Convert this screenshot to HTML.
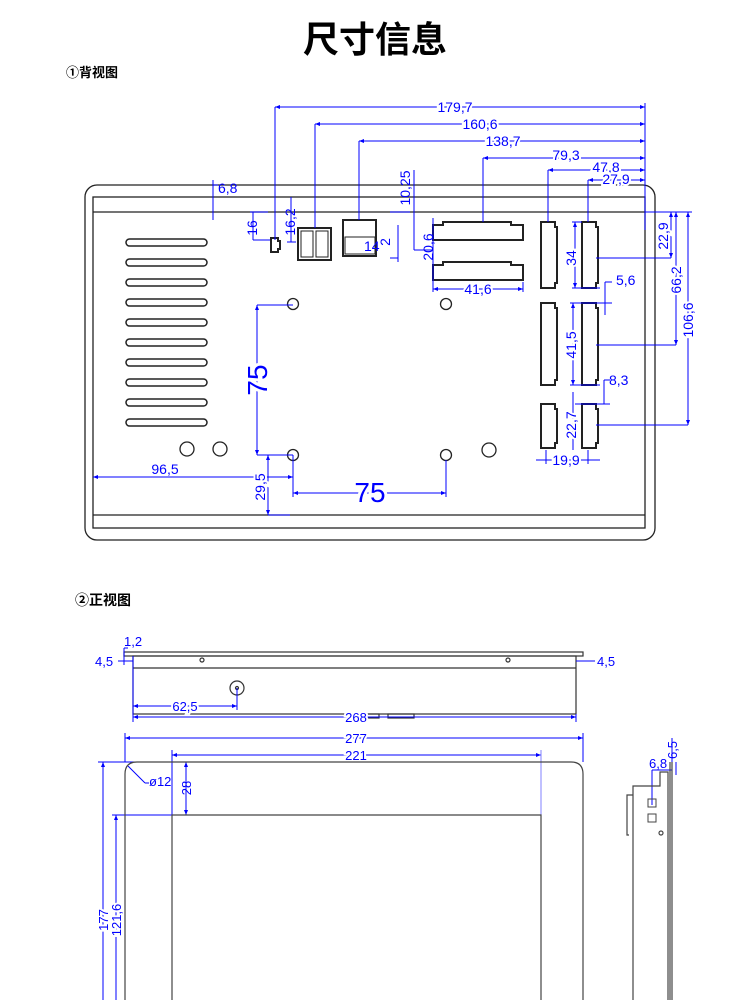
<!DOCTYPE html>
<html><head><meta charset="utf-8"><style>
html,body{margin:0;padding:0;background:#fff;}
svg{display:block}
</style></head><body>
<svg width="750" height="1000" viewBox="0 0 750 1000" xmlns="http://www.w3.org/2000/svg" font-family="Liberation Sans, sans-serif">
<defs>
<marker id="a" viewBox="0 0 10 10" refX="10" refY="5" markerWidth="7" markerHeight="5" orient="auto-start-reverse"><path d="M0,1 L10,5 L0,9z" fill="#0000ff"/></marker>
</defs>
<text x="375" y="52" text-anchor="middle" font-size="36" font-weight="bold" font-family="Liberation Sans, Noto Sans CJK SC, sans-serif">尺寸信息</text>
<text x="66" y="77" font-size="13" font-weight="bold" font-family="Liberation Sans, Noto Sans CJK SC, sans-serif">①背视图</text>
<text x="75" y="605" font-size="14" font-weight="bold" font-family="Liberation Sans, Noto Sans CJK SC, sans-serif">②正视图</text>

<!-- back view -->
<g fill="none" stroke="#222" stroke-width="1.3">
<rect x="85" y="185" width="570" height="355" rx="12"/>
<rect x="93" y="197" width="552" height="331"/>
<line x1="93" y1="212" x2="645" y2="212"/>
<line x1="93" y1="515" x2="645" y2="515"/>
<g stroke-width="1.5">
<rect x="126" y="239" width="81" height="7" rx="3.5"/><rect x="126" y="259" width="81" height="7" rx="3.5"/><rect x="126" y="279" width="81" height="7" rx="3.5"/><rect x="126" y="299" width="81" height="7" rx="3.5"/><rect x="126" y="319" width="81" height="7" rx="3.5"/><rect x="126" y="339" width="81" height="7" rx="3.5"/><rect x="126" y="359" width="81" height="7" rx="3.5"/><rect x="126" y="379" width="81" height="7" rx="3.5"/><rect x="126" y="399" width="81" height="7" rx="3.5"/><rect x="126" y="419" width="81" height="7" rx="3.5"/>
</g>
<circle cx="293" cy="304" r="5.5"/><circle cx="446" cy="304" r="5.5"/><circle cx="293" cy="455" r="5.5"/><circle cx="446" cy="455" r="5.5"/>
<circle cx="187" cy="449" r="7"/><circle cx="220" cy="449" r="7"/><circle cx="489" cy="450" r="7"/>
<g stroke-width="2">
<path d="M271,238 h7 v3 h2 v8 h-2 v3 h-7z"/>
<rect x="298" y="228" width="33" height="32"/>
<rect x="343" y="220" width="33" height="36"/>
<path d="M433,225 h10 v-3 h68 v3 h12 v15 h-90z"/>
<path d="M433,265 h10 v-3 h68 v3 h12 v15 h-90z"/>
<path d="M541,222 h14 v5 h2 v56 h-2 v5 h-14z"/>
<path d="M541,303 h14 v5 h2 v72 h-2 v5 h-14z"/>
<path d="M541,404 h14 v5 h2 v34 h-2 v5 h-14z"/>
<path d="M582,222 h14 v5 h2 v56 h-2 v5 h-14z"/>
<path d="M582,303 h14 v5 h2 v72 h-2 v5 h-14z"/>
<path d="M582,404 h14 v5 h2 v34 h-2 v5 h-14z"/>
</g>
<rect x="301" y="231" width="12" height="26" stroke-width="1"/><rect x="316" y="231" width="12" height="26" stroke-width="1"/>
<rect x="345" y="237" width="30" height="17" stroke-width="1"/>
</g>

<g stroke="#0000ff" stroke-width="1" fill="none">
<line x1="275" y1="107" x2="645" y2="107" marker-start="url(#a)" marker-end="url(#a)"/>
<line x1="315" y1="124" x2="645" y2="124" marker-start="url(#a)" marker-end="url(#a)"/>
<line x1="359" y1="141" x2="645" y2="141" marker-start="url(#a)" marker-end="url(#a)"/>
<line x1="483" y1="158" x2="645" y2="158" marker-start="url(#a)" marker-end="url(#a)"/>
<line x1="548" y1="170" x2="645" y2="170" marker-start="url(#a)" marker-end="url(#a)"/>
<line x1="588" y1="180" x2="645" y2="180" marker-start="url(#a)" marker-end="url(#a)"/>
<line x1="645" y1="103" x2="645" y2="230"/>
<line x1="275" y1="107" x2="275" y2="240"/><line x1="315" y1="124" x2="315" y2="228"/><line x1="359" y1="141" x2="359" y2="220"/><line x1="483" y1="158" x2="483" y2="222"/><line x1="548" y1="170" x2="548" y2="222"/><line x1="588" y1="180" x2="588" y2="222"/>
<line x1="213" y1="180" x2="213" y2="220"/><line x1="213" y1="185" x2="218" y2="185"/>
<line x1="253" y1="212" x2="253" y2="240"/><line x1="253" y1="240" x2="270" y2="240"/><line x1="250" y1="212" x2="268" y2="212"/>
<line x1="291" y1="197" x2="291" y2="242"/><line x1="287" y1="242" x2="296" y2="242"/>
<line x1="414" y1="170" x2="414" y2="250"/><line x1="414" y1="250" x2="433" y2="250"/>
<line x1="398" y1="225" x2="398" y2="262"/><line x1="390" y1="258" x2="398" y2="258"/><line x1="390" y1="212" x2="410" y2="212"/>
<line x1="433" y1="218" x2="433" y2="292"/>
<line x1="433" y1="289" x2="523" y2="289" marker-start="url(#a)" marker-end="url(#a)"/><line x1="523" y1="282" x2="523" y2="292"/>
<line x1="575" y1="222" x2="575" y2="288" marker-start="url(#a)" marker-end="url(#a)"/><line x1="572" y1="222" x2="582" y2="222"/><line x1="572" y1="288" x2="600" y2="288"/>
<line x1="605" y1="282" x2="605" y2="315"/><line x1="605" y1="282" x2="612" y2="282"/><line x1="570" y1="303" x2="612" y2="303"/>
<line x1="573" y1="303" x2="573" y2="385" marker-start="url(#a)" marker-end="url(#a)"/><line x1="570" y1="385" x2="600" y2="385"/>
<line x1="604" y1="380" x2="604" y2="404"/><line x1="604" y1="380" x2="610" y2="380"/><line x1="575" y1="404" x2="610" y2="404"/>
<line x1="573" y1="392" x2="573" y2="450"/>
<line x1="536" y1="460" x2="600" y2="460"/><line x1="546" y1="450" x2="546" y2="464"/><line x1="588" y1="450" x2="588" y2="464"/>
<line x1="596" y1="258" x2="671" y2="258"/><line x1="596" y1="345" x2="676" y2="345"/><line x1="596" y1="425" x2="688" y2="425"/><line x1="645" y1="212" x2="692" y2="212"/>
<line x1="671" y1="212" x2="671" y2="258" marker-start="url(#a)" marker-end="url(#a)"/>
<line x1="676" y1="212" x2="676" y2="345" marker-start="url(#a)" marker-end="url(#a)"/>
<line x1="688" y1="212" x2="688" y2="425" marker-start="url(#a)" marker-end="url(#a)"/>
<line x1="257" y1="305" x2="257" y2="455" marker-start="url(#a)" marker-end="url(#a)"/><line x1="257" y1="305" x2="293" y2="305"/><line x1="257" y1="455" x2="293" y2="455"/>
<line x1="293" y1="455" x2="293" y2="497"/><line x1="446" y1="460" x2="446" y2="497"/>
<line x1="293" y1="493" x2="446" y2="493" marker-start="url(#a)" marker-end="url(#a)"/>
<line x1="93" y1="477" x2="293" y2="477" marker-start="url(#a)" marker-end="url(#a)"/>
<line x1="268" y1="455" x2="268" y2="515" marker-start="url(#a)" marker-end="url(#a)"/><line x1="268" y1="515" x2="290" y2="515"/>
</g>
<g fill="#0000ff" font-size="14">
<text x="455" y="112" text-anchor="middle" fill="#0000ff" stroke="#fff" stroke-width="4" paint-order="stroke">179,7</text>
<text x="480" y="129" text-anchor="middle" stroke="#fff" stroke-width="4" paint-order="stroke">160,6</text>
<text x="503" y="146" text-anchor="middle" stroke="#fff" stroke-width="4" paint-order="stroke">138,7</text>
<text x="566" y="160" text-anchor="middle" stroke="#fff" stroke-width="4" paint-order="stroke">79,3</text>
<text x="606" y="172" text-anchor="middle" stroke="#fff" stroke-width="4" paint-order="stroke">47,8</text>
<text x="616" y="184" text-anchor="middle" stroke="#fff" stroke-width="4" paint-order="stroke">27,9</text>
<text x="218" y="193">6,8</text>
<text x="364" y="251">14</text>
<text x="478" y="294" text-anchor="middle" stroke="#fff" stroke-width="4" paint-order="stroke">41,6</text>
<text x="616" y="285">5,6</text>
<text x="609" y="385">8,3</text>
<text x="566" y="465" text-anchor="middle" stroke="#fff" stroke-width="4" paint-order="stroke">19,9</text>
<text x="165" y="474" text-anchor="middle">96,5</text>
<text x="370" y="502" text-anchor="middle" font-size="28" stroke="#fff" stroke-width="6" paint-order="stroke">75</text>
<text transform="translate(267,380) rotate(-90)" text-anchor="middle" font-size="28" stroke="#fff" stroke-width="6" paint-order="stroke">75</text>
<text transform="translate(257,228) rotate(-90)" text-anchor="middle">16</text>
<text transform="translate(295,222) rotate(-90)" text-anchor="middle">16,2</text>
<text transform="translate(410,188) rotate(-90)" text-anchor="middle">10,25</text>
<text transform="translate(390,242) rotate(-90)" text-anchor="middle">2</text>
<text transform="translate(433,247) rotate(-90)" text-anchor="middle">20,6</text>
<text transform="translate(576,258) rotate(-90)" text-anchor="middle" stroke="#fff" stroke-width="4" paint-order="stroke">34</text>
<text transform="translate(576,345) rotate(-90)" text-anchor="middle" stroke="#fff" stroke-width="4" paint-order="stroke">41,5</text>
<text transform="translate(576,425) rotate(-90)" text-anchor="middle" stroke="#fff" stroke-width="4" paint-order="stroke">22,7</text>
<text transform="translate(668,236) rotate(-90)" text-anchor="middle" stroke="#fff" stroke-width="4" paint-order="stroke">22,9</text>
<text transform="translate(681,280) rotate(-90)" text-anchor="middle" stroke="#fff" stroke-width="4" paint-order="stroke">66,2</text>
<text transform="translate(693,320) rotate(-90)" text-anchor="middle" stroke="#fff" stroke-width="4" paint-order="stroke">106,6</text>
<text transform="translate(265,487) rotate(-90)" text-anchor="middle" stroke="#fff" stroke-width="4" paint-order="stroke">29,5</text>
</g>

<!-- front section: top strip -->
<g fill="none" stroke="#333" stroke-width="1.2">
<rect x="124" y="652" width="459" height="4"/>
<rect x="133" y="656" width="443" height="58"/>
<line x1="133" y1="668" x2="576" y2="668"/>
<circle cx="202" cy="660" r="2"/><circle cx="508" cy="660" r="2"/>
<circle cx="237" cy="688" r="7"/><circle cx="237" cy="688" r="1.5"/>
<rect x="351" y="714" width="28" height="4"/><rect x="388" y="714" width="26" height="4"/>
</g>
<g stroke="#0000ff" stroke-width="1" fill="none">
<line x1="124" y1="648" x2="124" y2="665"/><line x1="124" y1="648" x2="128" y2="648"/>
<line x1="118" y1="661" x2="133" y2="661"/><line x1="576" y1="661" x2="595" y2="661"/>
<line x1="133" y1="656" x2="133" y2="722"/><line x1="576" y1="714" x2="576" y2="722"/><line x1="237" y1="688" x2="237" y2="710"/>
<line x1="133" y1="706" x2="237" y2="706" marker-start="url(#a)" marker-end="url(#a)"/>
<line x1="133" y1="717" x2="576" y2="717" marker-start="url(#a)" marker-end="url(#a)"/>
<line x1="125" y1="738" x2="583" y2="738" marker-start="url(#a)" marker-end="url(#a)"/>
<line x1="125" y1="733" x2="125" y2="762"/><line x1="583" y1="733" x2="583" y2="762"/>
<line x1="172" y1="755" x2="541" y2="755" marker-start="url(#a)" marker-end="url(#a)"/>
<line x1="172" y1="750" x2="172" y2="815"/><line x1="541" y1="750" x2="541" y2="815" stroke="#8080ff"/>
<line x1="98" y1="762" x2="155" y2="762"/><line x1="112" y1="815" x2="172" y2="815"/>
<line x1="103" y1="762" x2="103" y2="1000" marker-start="url(#a)"/>
<line x1="116" y1="815" x2="116" y2="1000" marker-start="url(#a)"/>
<line x1="186" y1="762" x2="186" y2="815" marker-start="url(#a)" marker-end="url(#a)"/>
<line x1="128" y1="766" x2="145" y2="783"/><line x1="145" y1="783" x2="149" y2="783"/>
<line x1="672" y1="738" x2="672" y2="775"/><line x1="676" y1="762" x2="676" y2="775"/>
<line x1="652" y1="770" x2="672" y2="770"/><line x1="652" y1="770" x2="652" y2="805"/>
</g>
<g fill="#0000ff" font-size="13">
<text x="124" y="646">1,2</text>
<text x="95" y="666">4,5</text>
<text x="597" y="666">4,5</text>
<text x="185" y="711" text-anchor="middle" stroke="#fff" stroke-width="4" paint-order="stroke">62,5</text>
<text x="356" y="722" text-anchor="middle" stroke="#fff" stroke-width="4" paint-order="stroke">268</text>
<text x="356" y="743" text-anchor="middle" stroke="#fff" stroke-width="4" paint-order="stroke">277</text>
<text x="356" y="760" text-anchor="middle" stroke="#fff" stroke-width="4" paint-order="stroke">221</text>
<text x="149" y="786">ø12</text>
<text transform="translate(191,788) rotate(-90)" text-anchor="middle">28</text>
<text transform="translate(108,920) rotate(-90)" text-anchor="middle" stroke="#fff" stroke-width="4" paint-order="stroke">177</text>
<text transform="translate(121,920) rotate(-90)" text-anchor="middle" stroke="#fff" stroke-width="4" paint-order="stroke">121,6</text>
<text transform="translate(677,750) rotate(-90)" text-anchor="middle">6,5</text>
<text x="649" y="768">6,8</text>
</g>
<g fill="none" stroke="#444" stroke-width="1.2">
<path d="M125,1000 V774 Q125,762 137,762 H571 Q583,762 583,774 V1000"/>
<path d="M172,1000 V815 H541 V1000"/>
<line x1="670" y1="762" x2="670" y2="1000"/><line x1="672" y1="762" x2="672" y2="1000"/>
<path d="M668,1000 V772 H660 V786 H633 V1000"/>
<path d="M633,795 H627 V835 H629"/>
<rect x="648" y="799" width="8" height="8" stroke-width="1"/><rect x="648" y="814" width="8" height="8" stroke-width="1"/>
<circle cx="661" cy="833" r="2"/>
</g>
</svg>
</body></html>
